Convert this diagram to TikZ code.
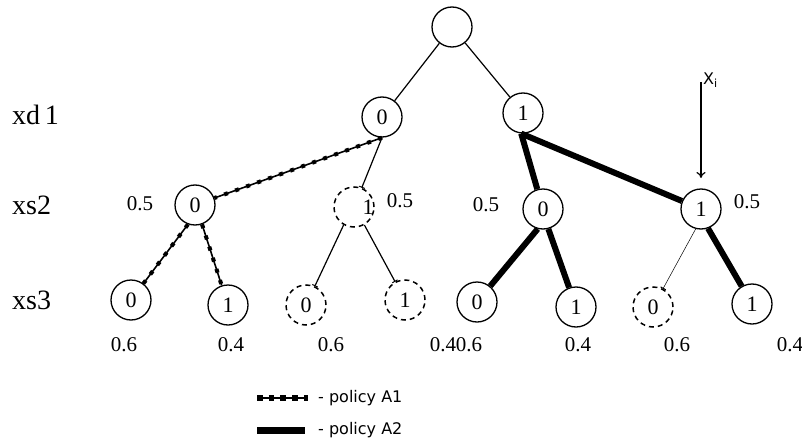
\documentclass[tikz,border=0pt]{standalone}
\usepackage{fontspec}
\setmainfont{Liberation Serif}
\setsansfont{DejaVu Sans}
\usetikzlibrary{arrows.meta}
\begin{document}
\begin{tikzpicture}[x=1pt,y=-1pt,
  nd/.style={circle,draw,line width=1.3pt,minimum size=40pt,inner sep=0pt,font=\fontsize{22}{22}\selectfont},
  dnd/.style={nd,line width=1.5pt,dash pattern=on 5pt off 4pt},
  ed/.style={line width=1.2pt},
  thin edge/.style={line width=0.5pt},
  pa/.style={line width=1.6pt,postaction={draw,line width=4pt,dash pattern=on 4pt off 7.7pt}},
  pal/.style={line width=2pt,postaction={draw,line width=5.5pt,dash pattern=on 5.5pt off 6.2pt}},
  pb/.style={line width=6pt},
  pbl/.style={line width=7pt},
  bar/.style={-{Bar[width=6pt,line width=1pt]}},
  lab/.style={font=\fontsize{21}{21}\selectfont,inner sep=0pt},
  rowlab/.style={font=\fontsize{28}{28}\selectfont,anchor=west,inner sep=0pt},
  leg/.style={font=\sffamily\fontsize{16}{16}\selectfont,anchor=west,inner sep=0pt}]
\useasboundingbox (0,0) rectangle (802,441);

% nodes
\node[nd] (r) at (452,27) {};
\node[nd] (a0) at (382,117) {0};
\node[nd] (a1) at (523,113) {1};
\node[nd] (b0) at (195,205) {0};
\node[dnd,label={[nd,draw=none,minimum size=0pt,xshift=14pt]center:1}] (b1) at (354,207) {};
\node[nd] (b2) at (543,209) {0};
\node[nd] (b3) at (701,209) {1};
\node[nd] (c0) at (131,300) {0};
\node[nd] (c1) at (228,305) {1};
\node[dnd] (c2) at (306,305) {0};
\node[dnd] (c3) at (405,300) {1};
\node[nd] (c4) at (477,302) {0};
\node[nd] (c5) at (576,307) {1};
\node[dnd] (c6) at (653,307) {0};
\node[nd] (c7) at (752,304) {1};

% row labels
\node[rowlab] (rxd) at (12,115) {xd\,1};
\node[rowlab] (rxs2) at (12,205) {xs2};
\node[rowlab] (rxs3) at (12,300) {xs3};

% probabilities
\node[lab] (p1) at (140,204) {0.5};
\node[lab] (p2) at (400,201) {0.5};
\node[lab] (p3) at (486,205) {0.5};
\node[lab] (p4) at (747,202) {0.5};
\node[lab] (q1) at (124,345) {0.6};
\node[lab] (q2) at (231,345) {0.4};
\node[lab] (q3) at (331,345) {0.6};
\node[lab] (q4) at (443,345) {0.4};
\node[lab] (q5) at (469,345) {0.6};
\node[lab] (q6) at (578,345) {0.4};
\node[lab] (q7) at (677,345) {0.6};
\node[lab] (q8) at (790,345) {0.4};

% edges
\draw[ed] (r) -- (a0);
\draw[ed] (r) -- (a1);
\draw[pa] (a0.south) -- (b0);
\draw[ed,bar] (a0.south) -- (b1);
\draw[pb] (a1.265) -- (b2);
\draw[pb] (a1.265) -- (b3);
\draw[pa] (b0.250) -- (c0);
\draw[pa] (b0.290) -- (c1);
\draw[ed,bar] (b1.240) -- (c2);
\draw[ed,bar] (b1.300) -- (c3);
\draw[pb] (b2.255) -- (c4);
\draw[pb] (b2.285) -- (c5);
\draw[thin edge,bar] (b3.255) -- (c6);
\draw[pb] (b3.290) -- (c7);

% X_i arrow
\coordinate (xs) at (701,82);
\coordinate (xe) at (701,178);
\draw[line width=1.2pt,-{To[length=6pt,width=9pt]}] (xs) -- (xe);
\node[font=\sffamily\fontsize{16}{16}\selectfont,anchor=west,inner sep=0pt] (xi) at (703,80) {X\textsubscript{i}};

% legend
\coordinate (l1a) at (257,398);
\coordinate (l1b) at (308,398);
\coordinate (l2a) at (257,430);
\coordinate (l2b) at (305,430);
\draw[pal] (l1a) -- (l1b);
\draw[pbl] (l2a) -- (l2b);
\node[leg] (t1) at (318,398) {- policy A1};
\node[leg] (t2) at (318,430) {- policy A2};
\end{tikzpicture}
\end{document}
